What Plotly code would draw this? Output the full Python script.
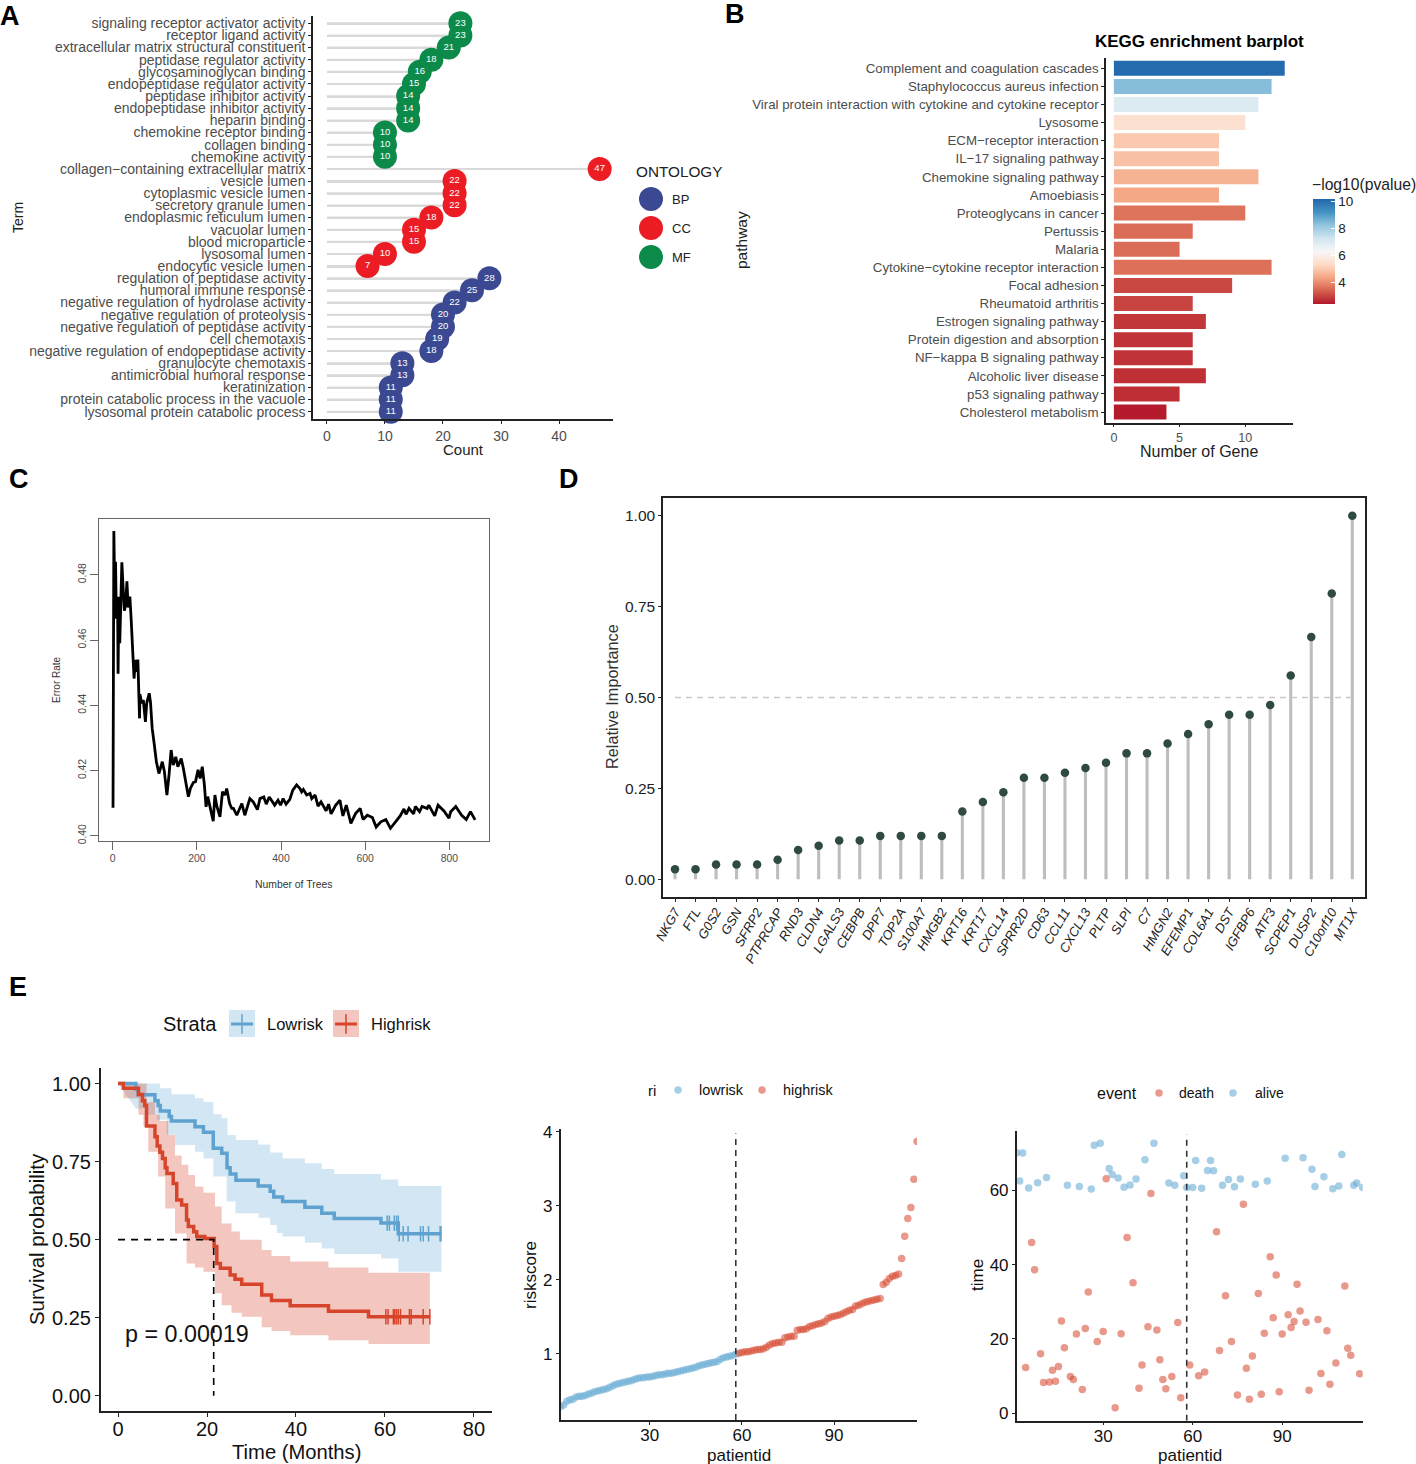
import plotly.graph_objects as go

W = 1416
H = 1464

# panel A
go_terms = ["signaling receptor activator activity", "receptor ligand activity", "extracellular matrix structural constituent",
            "peptidase regulator activity", "glycosaminoglycan binding", "endopeptidase regulator activity",
            "peptidase inhibitor activity", "endopeptidase inhibitor activity", "heparin binding",
            "chemokine receptor binding", "collagen binding", "chemokine activity",
            "collagen−containing extracellular matrix", "vesicle lumen", "cytoplasmic vesicle lumen",
            "secretory granule lumen", "endoplasmic reticulum lumen", "vacuolar lumen", "blood microparticle",
            "lysosomal lumen", "endocytic vesicle lumen", "regulation of peptidase activity", "humoral immune response",
            "negative regulation of hydrolase activity", "negative regulation of proteolysis",
            "negative regulation of peptidase activity", "cell chemotaxis", "negative regulation of endopeptidase activity",
            "granulocyte chemotaxis", "antimicrobial humoral response", "keratinization",
            "protein catabolic process in the vacuole", "lysosomal protein catabolic process"]
go_counts = [23, 23, 21, 18, 16, 15, 14, 14, 14, 10, 10, 10, 47, 22, 22, 22, 18, 15, 15, 10, 7,
             28, 25, 22, 20, 20, 19, 18, 13, 13, 11, 11, 11]
go_groups = ["MF"] * 12 + ["CC"] * 9 + ["BP"] * 12

# panel B
kegg_paths = ["Complement and coagulation cascades", "Staphylococcus aureus infection",
              "Viral protein interaction with cytokine and cytokine receptor", "Lysosome", "ECM−receptor interaction",
              "IL−17 signaling pathway", "Chemokine signaling pathway", "Amoebiasis", "Proteoglycans in cancer",
              "Pertussis", "Malaria", "Cytokine−cytokine receptor interaction", "Focal adhesion", "Rheumatoid arthritis",
              "Estrogen signaling pathway", "Protein digestion and absorption", "NF−kappa B signaling pathway",
              "Alcoholic liver disease", "p53 signaling pathway", "Cholesterol metabolism"]
kegg_genes = [13, 12, 11, 10, 8, 8, 11, 8, 10, 6, 5, 12, 9, 6, 7, 6, 6, 7, 5, 4]
kegg_logp = [10.1, 8.4, 7.0, 5.5, 5.0, 4.85, 4.6, 4.4, 3.65, 3.55, 3.55, 3.6, 3.05, 3.0, 2.8, 2.75, 2.75, 2.72, 2.7, 2.45]

# panel C
rf_trees = [1, 3, 5, 7, 9, 12, 13, 15, 17, 19, 22, 25, 28, 31, 34, 37, 41, 44, 48, 51, 54, 58, 60, 61, 64, 65, 69, 73,
            78, 81, 87, 90, 94, 99, 104, 110, 114, 118, 123, 129, 134, 139, 144, 150, 155, 163, 168, 174, 180, 185,
            192, 197, 203, 208, 213, 218, 222, 226, 232, 239, 243, 247, 255, 261, 267, 271, 278, 283, 287, 295, 307,
            314, 326, 334, 344, 350, 359, 365, 372, 385, 393, 399, 405, 412, 421, 428, 437, 445, 449, 453, 461, 469,
            473, 481, 488, 495, 507, 513, 519, 530, 540, 547, 555, 566, 577, 588, 595, 605, 617, 626, 637, 649, 660,
            671, 683, 692, 697, 704, 715, 719, 729, 735, 747, 751, 765, 773, 787, 799, 803, 815, 829, 840, 850, 861]
rf_error = [.4086, .4934, .4748, .484, .4666, .4696, .4497, .4733, .459, .4687, .4838, .476, .469, .4707, .478, .470,
            .4733, .4666, .458, .4482, .4539, .4503, .454, .4475, .436, .4434, .4406, .4416, .4349, .4406, .4437, .441,
            .433, .428, .4227, .4191, .4206, .4227, .4197, .4125, .4186, .4263, .4217, .4242, .4212, .4237, .4207,
            .4156, .412, .4146, .4164, .4166, .4202, .4176, .4212, .4156, .4089, .412, .4085, .4045, .4125, .4094,
            .4058, .4135, .4125, .4145, .4099, .4084, .4084, .4063, .4099, .4063, .4114, .4104, .408, .4114, .4119,
            .4097, .4119, .4094, .4109, .4094, .4114, .4097, .4112, .414, .4156, .4145, .4135, .4142, .4125, .413,
            .4114, .4125, .4091, .4104, .4077, .4097, .4067, .4094, .4109, .4061, .4094, .4038, .4068, .4084, .405,
            .4063, .4056, .4027, .4043, .405, .4023, .4043, .4061, .4082, .4066, .4084, .4067, .409, .4074, .409,
            .4084, .4094, .4061, .4094, .4076, .4054, .4074, .409, .4063, .405, .4074, .4049]

# panel D
imp_genes = ["NKG7", "FTL", "G0S2", "GSN", "SFRP2", "PTPRCAP", "RND3", "CLDN4", "LGALS3", "CEBPB", "DPP7", "TOP2A",
             "S100A7", "HMGB2", "KRT16", "KRT17", "CXCL14", "SPRR2D", "CD63", "CCL11", "CXCL13", "PLTP", "SLPI", "C7",
             "HMGN2", "EFEMP1", "COL6A1", "DST", "IGFBP6", "ATF3", "SCPEP1", "DUSP2", "C10orf10", "MT1X"]
imp_values = [.027, .027, .04, .04, .04, .053, .08, .092, .106, .106, .119, .119, .119, .119, .186, .212, .239, .279,
              .279, .293, .306, .32, .346, .346, .373, .399, .426, .452, .452, .479, .56, .666, .786, 1.0]

# panel E, survival
low_t = [0, 4, 4.5, 8.3, 9, 9.5, 11.5, 12, 17.3, 19.2, 21.4, 23.3, 24.5, 25.2, 26.5, 31.5, 34.2, 35, 37, 42, 45.8,
         48.6, 59.1, 63, 72.7]
low_s = [1, .982, .964, .945, .93, .912, .895, .88, .862, .844, .793, .777, .73, .71, .69, .672, .655, .637, .622,
         .604, .585, .568, .553, .519, .519]
high_t = [0, 1.2, 4.6, 5.5, 6, 6.4, 8.3, 8.8, 9.4, 10, 10.6, 11, 12.4, 13.2, 14.3, 15.4, 15.8, 17, 17.7, 19.5, 21.6,
          22.2, 23, 25.2, 26.3, 27.8, 32.3, 34.5, 38.7, 47.3, 56.3, 70.1]
high_s = [1, .985, .965, .945, .93, .864, .83, .80, .78, .76, .73, .712, .68, .627, .611, .563, .542, .525, .51, .504,
          .478, .424, .408, .387, .373, .357, .323, .305, .288, .271, .253, .253]
low_cens_t = [60.5, 61, 62.1, 62.6, 63, 63.2, 64.1, 65.2, 68, 68.6, 69.8, 72.4, 72.6]
low_cens_s = [.553, .553, .553, .553, .553, .519, .519, .519, .519, .519, .519, .519, .519]
high_cens_t = [60.2, 60.7, 61.9, 62.2, 62.6, 63, 63.5, 65.5, 65.9, 68.6, 70.1]
high_cens_s = [.253] * 11
low_up_t = [0, 9.4, 12, 17.3, 19.2, 21.4, 23.3, 24.6, 26.5, 31.5, 34.2, 37, 42, 45.8, 48.6, 59.1, 63, 72.7]
low_up_s = [1, .985, .966, .953, .941, .902, .889, .835, .819, .805, .779, .76, .745, .726, .71, .693, .672, .672]
low_dn_t = [4, 6, 8.7, 10.9, 12.8, 17.3, 19.2, 21.4, 24.4, 26.4, 31.6, 34.2, 35.7, 37, 42, 45.8, 48.6, 59.1, 63, 72.7]
low_dn_s = [.92, .90, .884, .836, .803, .782, .76, .702, .622, .585, .57, .547, .521, .51, .49, .472, .454, .44, .397, .397]
high_up_t = [0, 6.4, 8.3, 9.4, 11.3, 12.8, 14.3, 15.8, 17.3, 19.2, 21.8, 23.3, 25.5, 27.4, 32.3, 34.5, 38.7, 47.3, 56.3, 70.1]
high_up_s = [1, .94, .90, .88, .835, .77, .74, .707, .67, .65, .606, .552, .526, .50, .467, .448, .43, .411, .394, .394]
high_dn_t = [0, 1.2, 4.6, 5.7, 6.8, 9, 10.6, 12.8, 15.4, 17.3, 19.2, 21.8, 23.3, 25.5, 27.8, 32.3, 34.5, 38.7, 47.3, 56.3, 70.1]
high_dn_s = [1, .953, .90, .862, .782, .702, .60, .52, .424, .411, .397, .328, .29, .266, .253, .219, .207, .194, .178, .166, .166]

# panel E, risk score by patient
risk_low = [.29, .31, .36, .38, .39, .42, .43, .43, .44, .46, .47, .49, .50, .51, .52, .53, .55, .57, .59, .60, .61,
            .62, .63, .64, .66, .67, .68, .68, .69, .69, .70, .71, .72, .72, .73, .74, .74, .75, .76, .77, .78, .79,
            .80, .81, .82, .84, .85, .86, .87, .88, .89, .90, .93, .95, .96, .97, .98, 1.00]
risk_high = [1.01, 1.02, 1.03, 1.03, 1.04, 1.05, 1.06, 1.06, 1.07, 1.09, 1.12, 1.14, 1.15, 1.16, 1.16, 1.22, 1.23,
             1.24, 1.24, 1.32, 1.33, 1.33, 1.34, 1.37, 1.38, 1.40, 1.41, 1.42, 1.44, 1.48, 1.50, 1.51, 1.52, 1.53,
             1.55, 1.57, 1.59, 1.60, 1.65, 1.66, 1.68, 1.70, 1.71, 1.72, 1.73, 1.74, 1.75, 1.94, 1.97, 2.02, 2.05,
             2.06, 2.08, 2.29, 2.59, 2.83, 2.98, 3.36, 3.87]

# panel E, follow-up time by patient
alive_id = [1, 2, 3, 5, 8, 11, 18, 22, 26, 27, 29, 32, 33, 35, 37, 39, 41, 44, 47, 52, 54, 57, 58, 60, 61, 63, 65, 66,
            67, 70, 72, 74, 76, 81, 85, 91, 97, 100, 101, 104, 107, 109, 110, 114, 115, 117]
alive_time = [70.1, 62.5, 70, 60.6, 62, 63.4, 61.3, 61, 60.3, 72.1, 72.6, 65.8, 64.2, 63.3, 60.8, 61.4, 63, 68.2, 72.6,
              61.9, 61.3, 63.9, 60.7, 60.7, 68, 60.5, 65.3, 68, 65.2, 61.3, 62.9, 60.9, 63, 61.6, 62.5, 68.6, 68.7,
              65.6, 61, 63.6, 60.4, 61.1, 69.6, 61.3, 61.9, 60.7]
death_id = [4, 6, 7, 9, 10, 12, 13, 14, 15, 16, 17, 19, 20, 21, 23, 24, 25, 28, 30, 31, 34, 36, 38, 40, 42, 43, 45, 46,
            48, 49, 50, 51, 53, 55, 56, 59, 62, 64, 68, 69, 71, 73, 75, 77, 78, 79, 80, 82, 83, 84, 86, 87, 88, 89, 90,
            92, 93, 94, 95, 96, 98, 99, 102, 103, 105, 106, 108, 111, 112, 113, 116]
death_time = [12.3, 45.9, 38.6, 16, 8.3, 8.4, 11.6, 8.6, 12.6, 24.8, 17.6, 9.9, 9.1, 21.3, 6.4, 22.8, 32.6, 19.3, 22,
              63.1, 1.5, 21.4, 47.3, 35.1, 6.7, 13, 23.3, 59.1, 22.4, 14.4, 9.1, 6.6, 9.9, 24.4, 4.2, 13, 10.1, 11.1,
              48.8, 16.9, 31.6, 19.3, 4.9, 56.2, 12.1, 3.8, 15.4, 32.2, 5.1, 21.5, 42.1, 25.7, 37.2, 5.8, 21.3, 26.5,
              23.1, 24.7, 34.7, 27.5, 24.5, 6.2, 25.2, 10.7, 22.2, 7.8, 13.5, 34.2, 17.5, 15.6, 10.6]

onto_colors = {"BP": "#3B4992", "CC": "#EC1C24", "MF": "#0B8A4A"}
BLUE = "#6BAED6"
RED = "#D6452B"
GRAY = "#4d4d4d"
FONT = "Liberation Sans"


def px_x(x):
    return x / W


def px_y(y):
    return 1 - y / H


def dom_x(a, b):
    return [px_x(a), px_x(b)]


def dom_y(top, bottom):
    return [px_y(bottom), px_y(top)]


fig = go.Figure()
annots = []


def label(x, y, text, size, color="black", angle=0, anchor="center", bold=False):
    # annotations carry a small inner pad, pull left-anchored text back
    if anchor == "left":
        x -= 2
    annots.append(dict(x=px_x(x), y=px_y(y), xref="paper", yref="paper", text="<b>%s</b>" % text if bold else text,
                       showarrow=False, font=dict(size=size, color=color, family=FONT), textangle=angle,
                       xanchor=anchor, yanchor="middle"))


def axis(dom, rng, anchor, tickvals=None, ticktext=None, size=14, color=GRAY, lw=1.5, ticklen=3, mirror=False,
         linecolor="#222222", **kw):
    d = dict(domain=dom, range=rng, anchor=anchor, showgrid=False, zeroline=False, showline=True, linecolor=linecolor,
             linewidth=lw, ticks="outside", ticklen=ticklen, tickwidth=1, tickcolor=linecolor, mirror=mirror,
             tickfont=dict(size=size, color=color, family=FONT))
    if tickvals is not None:
        d.update(tickmode="array", tickvals=tickvals)
    if ticktext is not None:
        d.update(ticktext=ticktext)
    d.update(kw)
    return d


# ---- A: GO lollipop
fig.add_trace(go.Bar(x=go_counts, y=go_terms, orientation="h", width=0.16, marker=dict(color="#d9d9d9", line_width=0),
                     xaxis="x", yaxis="y", showlegend=False))
fig.add_trace(go.Scatter(x=go_counts, y=go_terms, mode="markers+text", text=[str(c) for c in go_counts],
                         textposition="middle center", textfont=dict(size=9.5, color="white", family=FONT),
                         marker=dict(size=24, color=[onto_colors[g] for g in go_groups]),
                         xaxis="x", yaxis="y", showlegend=False, cliponaxis=False))
fig.update_layout(
    xaxis=axis(dom_x(313, 613), [-2.4, 49.3], "y", [0, 10, 20, 30, 40], size=14),
    yaxis=axis(dom_y(16, 419), [-0.6, 32.6], "x", go_terms, size=14, type="category", categoryorder="array",
               categoryarray=go_terms[::-1]),
)

# ---- B: KEGG bars
rdbu = [[0, "#b2182b"], [.125, "#d6604d"], [.25, "#f4a582"], [.375, "#fddbc7"], [.5, "#f7f7f7"], [.625, "#d1e5f0"],
        [.75, "#92c5de"], [.875, "#4393c3"], [1, "#2166ac"]]
fig.add_trace(go.Bar(x=kegg_genes, y=kegg_paths, orientation="h", width=0.83, xaxis="x2", yaxis="y2", showlegend=False,
                     marker=dict(color=kegg_logp, colorscale=rdbu, cmin=2.4, cmax=10.2, line_width=0,
                                 colorbar=dict(x=px_x(1312.5), xanchor="left", y=px_y(199), yanchor="top", len=105,
                                               lenmode="pixels", thickness=21.5, xpad=0, ypad=0, outlinewidth=0,
                                               tickvals=[4, 6, 8, 10], ticks="inside", ticklen=4, tickcolor="white",
                                               tickfont=dict(size=13.5, color="#222222", family=FONT)))))
fig.update_layout(
    xaxis2=axis(dom_x(1106, 1292.6), [-0.6, 13.6], "y2", [0, 5, 10], size=12.5),
    yaxis2=axis(dom_y(58, 422.7), [-0.59, 19.57], "x2", kegg_paths, size=13.3, type="category", categoryorder="array",
                categoryarray=kegg_paths[::-1]),
)

# ---- C: random forest error
fig.add_trace(go.Scatter(x=rf_trees, y=rf_error, mode="lines", line=dict(color="black", width=2.8), xaxis="x3", yaxis="y3",
                         showlegend=False))
fig.update_layout(
    xaxis3=axis(dom_x(98.7, 489), [-33, 894], "y3", [0, 200, 400, 600, 800], size=10.4, mirror=True, lw=1,
                linecolor="#666666", ticklen=8),
    yaxis3=axis(dom_y(519, 840.7), [.3985, .4971], "x3", [.40, .42, .44, .46, .48], ["0.40", "0.42", "0.44", "0.46", "0.48"],
                size=10.4, mirror=True, lw=1, linecolor="#666666", ticklen=8, tickangle=-90),
)

# ---- D: relative importance
fig.add_trace(go.Bar(x=imp_genes, y=imp_values, width=0.15, marker=dict(color="#bdbdbd", line_width=0), xaxis="x4",
                     yaxis="y4", showlegend=False))
fig.add_trace(go.Scatter(x=imp_genes, y=imp_values, mode="markers", marker=dict(size=8.5, color="#2F4A3E"), xaxis="x4",
                         yaxis="y4", showlegend=False))
fig.update_layout(
    xaxis4=axis(dom_x(663, 1364.6), [-0.585, 33.6], "y4", imp_genes, size=13, color="#222222", tickangle=-60, type="category",
                categoryorder="array", categoryarray=imp_genes, mirror=True, ticklabelstandoff=-3),
    yaxis4=axis(dom_y(497.5, 897.3), [-0.05, 1.05], "x4", [0, .25, .5, .75, 1], ["0.00", "0.25", "0.50", "0.75", "1.00"],
                size=15.5, color="#222222", mirror=True),
)
fig.layout.xaxis4.tickfont.style = "italic"
fig.add_trace(go.Scatter(x=[imp_genes[0], imp_genes[-1]], y=[.5, .5], mode="lines", xaxis="x4", yaxis="y4", showlegend=False,
                         line=dict(color="#c8c8c8", width=1.5, dash="6px,5px")))

# ---- E left: survival
fig.add_trace(go.Scatter(x=low_dn_t, y=low_dn_s, mode="lines", line=dict(width=0, shape="hv"), xaxis="x5", yaxis="y5",
                         showlegend=False))
fig.add_trace(go.Scatter(x=low_up_t, y=low_up_s, mode="lines", line=dict(width=0, shape="hv"), fill="tonexty",
                         fillcolor="rgba(107,174,214,0.3)", xaxis="x5", yaxis="y5", showlegend=False))
fig.add_trace(go.Scatter(x=high_dn_t, y=high_dn_s, mode="lines", line=dict(width=0, shape="hv"), xaxis="x5", yaxis="y5",
                         showlegend=False))
fig.add_trace(go.Scatter(x=high_up_t, y=high_up_s, mode="lines", line=dict(width=0, shape="hv"), fill="tonexty",
                         fillcolor="rgba(214,69,43,0.3)", xaxis="x5", yaxis="y5", showlegend=False))
fig.add_trace(go.Scatter(x=low_t, y=low_s, mode="lines", line=dict(color="#5FA2CF", width=3.5, shape="hv"), xaxis="x5",
                         yaxis="y5", showlegend=False))
fig.add_trace(go.Scatter(x=high_t, y=high_s, mode="lines", line=dict(color=RED, width=3.5, shape="hv"), xaxis="x5",
                         yaxis="y5", showlegend=False))
fig.add_trace(go.Scatter(x=low_cens_t, y=low_cens_s, mode="markers", xaxis="x5", yaxis="y5", showlegend=False,
                         marker=dict(symbol="line-ns", size=11, line=dict(color="#5FA2CF", width=1.5))))
fig.add_trace(go.Scatter(x=high_cens_t, y=high_cens_s, mode="markers", xaxis="x5", yaxis="y5", showlegend=False,
                         marker=dict(symbol="line-ns", size=11, line=dict(color=RED, width=1.5))))
fig.add_trace(go.Scatter(x=[0, 21.5, 21.5], y=[.5, .5, 0], mode="lines", xaxis="x5", yaxis="y5", showlegend=False,
                         line=dict(color="black", width=1.6, dash="7px,6px")))
fig.update_layout(
    xaxis5=axis(dom_x(100.7, 491.7), [-3.9, 84], "y5", [0, 20, 40, 60, 80], size=20, color="#111111", ticklen=4,
                ticklabelstandoff=-5),
    yaxis5=axis(dom_y(1068, 1411), [-.049, 1.05], "x5", [0, .25, .5, .75, 1], ["0.00", "0.25", "0.50", "0.75", "1.00"],
                size=20, color="#111111", ticklen=4),
)

# ---- E middle: risk score
patient_low = list(range(1, len(risk_low) + 1))
patient_high = list(range(len(risk_low) + 1, len(risk_low) + len(risk_high) + 1))
fig.add_trace(go.Scatter(x=patient_low, y=risk_low, mode="markers", marker=dict(size=7.5, color=BLUE, opacity=.6), xaxis="x6",
                         yaxis="y6", showlegend=False))
fig.add_trace(go.Scatter(x=patient_high, y=risk_high, mode="markers", marker=dict(size=7.5, color=RED, opacity=.55), xaxis="x6",
                         yaxis="y6", showlegend=False))
fig.add_trace(go.Scatter(x=[58, 58], y=[.108, 3.98], mode="lines", line=dict(color="#333333", width=1.6, dash="6px,5px"),
                         xaxis="x6", yaxis="y6", showlegend=False))
fig.update_layout(
    xaxis6=axis(dom_x(560.7, 917), [1, 117], "y6", [30, 60, 90], size=17, color="#111111", ticklen=3, ticklabelstandoff=-4),
    yaxis6=axis(dom_y(1129, 1420), [.108, 4.04], "x6", [1, 2, 3, 4], size=17, color="#111111", ticklen=3),
)

# ---- E right: time
fig.add_trace(go.Scatter(x=death_id, y=death_time, mode="markers", marker=dict(size=7.5, color=RED, opacity=.55), xaxis="x7",
                         yaxis="y7", showlegend=False))
fig.add_trace(go.Scatter(x=alive_id, y=alive_time, mode="markers", marker=dict(size=7.5, color=BLUE, opacity=.6), xaxis="x7",
                         yaxis="y7", showlegend=False))
fig.add_trace(go.Scatter(x=[58, 58], y=[-2, 75], mode="lines", line=dict(color="#333333", width=1.6, dash="6px,5px"),
                         xaxis="x7", yaxis="y7", showlegend=False))
fig.update_layout(
    xaxis7=axis(dom_x(1016.7, 1362.7), [1, 117], "y7", [30, 60, 90], size=17, color="#111111", ticklen=3, ticklabelstandoff=-4),
    yaxis7=axis(dom_y(1130.7, 1420.7), [-2, 76], "x7", [0, 20, 40, 60], size=17, color="#111111", ticklen=3),
)

# ---- legend keys, on a page-sized axis
key_x = [651, 651, 651]
key_y = [199, 228, 257]
fig.add_trace(go.Scatter(x=key_x, y=key_y, mode="markers", xaxis="x8", yaxis="y8", showlegend=False,
                         marker=dict(size=24, color=[onto_colors["BP"], onto_colors["CC"], onto_colors["MF"]])))
fig.add_trace(go.Scatter(x=[678, 1233], y=[1090, 1093], mode="markers", xaxis="x8", yaxis="y8", showlegend=False,
                         marker=dict(size=7.5, color=BLUE, opacity=.6)))
fig.add_trace(go.Scatter(x=[762, 1159], y=[1090, 1093], mode="markers", xaxis="x8", yaxis="y8", showlegend=False,
                         marker=dict(size=7.5, color=RED, opacity=.55)))
fig.add_trace(go.Scatter(x=[231, 253], y=[1024, 1024], mode="lines", line=dict(color="#5FA2CF", width=3), xaxis="x8",
                         yaxis="y8", showlegend=False))
fig.add_trace(go.Scatter(x=[335, 357], y=[1024, 1024], mode="lines", line=dict(color=RED, width=3), xaxis="x8", yaxis="y8",
                         showlegend=False))
fig.add_trace(go.Scatter(x=[242], y=[1024], mode="markers", xaxis="x8", yaxis="y8", showlegend=False,
                         marker=dict(symbol="line-ns", size=14, line=dict(color="#5FA2CF", width=1.5))))
fig.add_trace(go.Scatter(x=[346], y=[1024], mode="markers", xaxis="x8", yaxis="y8", showlegend=False,
                         marker=dict(symbol="line-ns", size=14, line=dict(color=RED, width=1.5))))
fig.update_layout(
    xaxis8=dict(domain=[0, 1], range=[0, W], visible=False, anchor="y8"),
    yaxis8=dict(domain=[0, 1], range=[H, 0], visible=False, anchor="x8"),
    shapes=[dict(type="rect", xref="paper", yref="paper", x0=px_x(229), x1=px_x(255), y0=px_y(1037), y1=px_y(1010),
                 fillcolor="rgba(107,174,214,0.3)", line_width=0, layer="below"),
            dict(type="rect", xref="paper", yref="paper", x0=px_x(333), x1=px_x(359), y0=px_y(1037), y1=px_y(1010),
                 fillcolor="rgba(214,69,43,0.3)", line_width=0, layer="below")],
)

# ---- text
label(10, 16, "A", 27, bold=True)
label(735, 14, "B", 27, bold=True)
label(19, 479, "C", 27, bold=True)
label(569, 479, "D", 27, bold=True)
label(18, 987, "E", 27, bold=True)

label(18, 218, "Term", 14, "#222222", -90)
label(463, 450, "Count", 15, "#222222")
label(636, 171, "ONTOLOGY", 15.3, "#222222", anchor="left")
label(672, 199, "BP", 13, "#222222", anchor="left")
label(672, 228, "CC", 13, "#222222", anchor="left")
label(672, 257, "MF", 13, "#222222", anchor="left")

label(1199, 42, "KEGG enrichment barplot", 17, "black", bold=True)
label(742, 240, "pathway", 15.5, "#222222", -90)
label(1199, 451, "Number of Gene", 16, "#222222")
label(1312, 184, "−log10(pvalue)", 15.7, "#222222", anchor="left")

label(56, 680, "Error Rate", 10, "#333333", -90)
label(293, 884, "Number of Trees", 10.4, "#333333")

label(612, 697, "Relative Importance", 16.3, "#333333", -90)

label(163, 1024, "Strata", 20, "#111111", anchor="left")
label(267, 1024, "Lowrisk", 16.5, "#111111", anchor="left")
label(371, 1024, "Highrisk", 16.5, "#111111", anchor="left")
label(37, 1239, "Survival probability", 20.4, "#111111", -90)
label(296, 1452, "Time (Months)", 20.2, "#111111")
label(125, 1334, "p = 0.00019", 23.3, "#111111", anchor="left")

label(652, 1090, "ri", 15, "#111111")
label(699, 1090, "lowrisk", 14.4, "#111111", anchor="left")
label(783, 1090, "highrisk", 14.4, "#111111", anchor="left")
label(739, 1455, "patientid", 17, "#111111")
label(530, 1275, "riskscore", 17, "#111111", -90)

label(1117, 1093, "event", 16, "#111111")
label(1179, 1093, "death", 14, "#111111", anchor="left")
label(1255, 1093, "alive", 14, "#111111", anchor="left")
label(1190, 1455, "patientid", 17, "#111111")
label(977, 1275, "time", 17, "#111111", -90)

fig.update_layout(width=W, height=H, margin=dict(l=0, r=0, t=0, b=0), template="none", paper_bgcolor="white",
                  plot_bgcolor="rgba(0,0,0,0)", annotations=annots, barmode="overlay",
                  font=dict(family=FONT), showlegend=False)

# the page body has an 8px margin by default, the figure needs the whole window
fig.write_html("out.html", config={"displayModeBar": False}, post_script="document.body.style.margin='0';")
